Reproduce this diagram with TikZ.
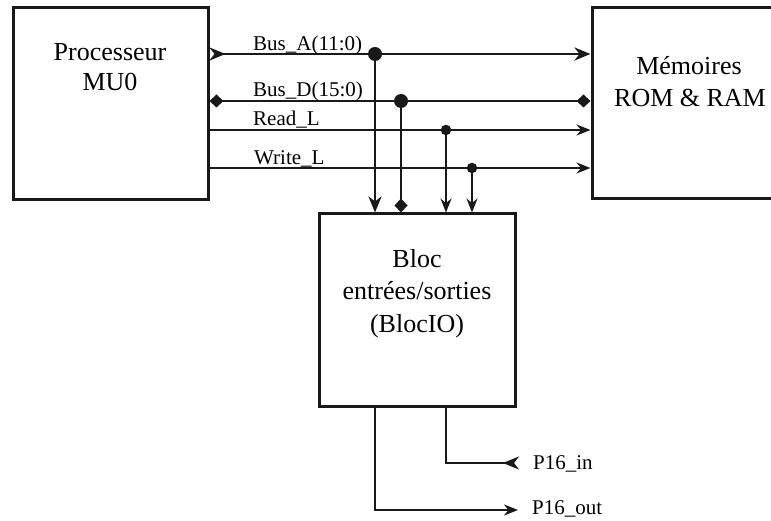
\documentclass[tikz,border=0pt]{standalone}
\usepackage{fontspec}
\setmainfont{Liberation Serif}
\usetikzlibrary{arrows.meta}
\begin{document}
\begin{tikzpicture}[x=1pt,y=-1pt,
  blk/.style={draw=black!90, line width=3pt, inner sep=0pt, fill=none},
  bigtxt/.style={font=\fontsize{26}{31}\selectfont, anchor=base, inner sep=0pt},
  lbl/.style={font=\fontsize{21}{25}\selectfont, anchor=base west, inner sep=0pt},
  bus/.style={line width=2.8pt, draw=black!90},
  sig/.style={line width=1.4pt, draw=black!90},
  sigb/.style={line width=2.1pt, draw=black!90},
  bigdot/.style={circle, fill=black!90, inner sep=0pt, minimum size=14pt},
  smalldot/.style={circle, fill=black!90, inner sep=0pt, minimum size=10.5pt},
  tipA/.tip={Stealth[length=16pt, width=13pt, inset=5pt]},
  tipS/.tip={Stealth[length=14pt, width=11pt, inset=4.5pt]},
  tipD/.tip={Diamond[length=14pt, width=13pt]},
]
\useasboundingbox (0,0) rectangle (771,521);
\begin{scope}
\clip (0,0) rectangle (771,521);
% boxes
\node[blk, minimum width=195pt, minimum height=192pt] (proc) at (110.5,104) {};
\node[blk, minimum width=200pt, minimum height=191pt] (mem) at (692,103.5) {};
\node[blk, minimum width=196pt, minimum height=192pt] (io) at (417,310) {};
\end{scope}
% box texts
\node[bigtxt] (proc1) at (110,61) {Processeur};
\node[bigtxt] (proc2) at (110,91) {MU0};
\node[bigtxt] (mem1) at (689,75) {Mémoires};
\node[bigtxt] (mem2) at (690,107) {ROM \& RAM};
\node[bigtxt] (io1) at (417,268) {Bloc};
\node[bigtxt] (io2) at (417,300) {entrées/sorties};
\node[bigtxt] (io3) at (417,332) {(BlocIO)};
% junctions
\node[bigdot] (ja) at (375,54) {};
\node[bigdot] (jd) at (401,101) {};
\node[smalldot] (jr) at (446,130) {};
\node[smalldot] (jw) at (472,168) {};
% horizontal buses and signals
\draw[bus, {tipA[reversed]}-{tipA}] (proc.east |- ja) -- (mem.west |- ja);
\draw[bus, {tipD}-{tipD}] (proc.east |- jd) -- (mem.west |- jd);
\draw[sig, -{tipS}] (proc.east |- jr) -- (mem.west |- jr);
\draw[sig, -{tipS}] (proc.east |- jw) -- (mem.west |- jw);
% vertical drops
\draw[bus, -{tipA}] (ja.center) -- (ja |- io.north);
\draw[bus, -{tipD}] (jd.center) -- (jd |- io.north);
\draw[sig, -{tipS}] (jr.center) -- (jr |- io.north);
\draw[sig, -{tipS}] (jw.center) -- (jw |- io.north);
% labels
\node[lbl] (la) at (253,51) {Bus\_A(11:0)};
\node[lbl] (ld) at (253,97) {Bus\_D(15:0)};
\node[lbl] (lr) at (253,126) {Read\_L};
\node[lbl] (lw) at (254,165) {Write\_L};
% outputs
\coordinate (pin) at (519,463);
\coordinate (pout) at (518,510);
\draw[sigb, -{tipA[reversed]}] (io.south -| jr) -- (jr |- pin) -- (pin);
\draw[sigb, -{tipS}] (io.south -| ja) -- (ja |- pout) -- (pout);
\node[lbl] (lin) at (533,469) {P16\_in};
\node[lbl] (lout) at (532,514) {P16\_out};
\end{tikzpicture}
\end{document}
